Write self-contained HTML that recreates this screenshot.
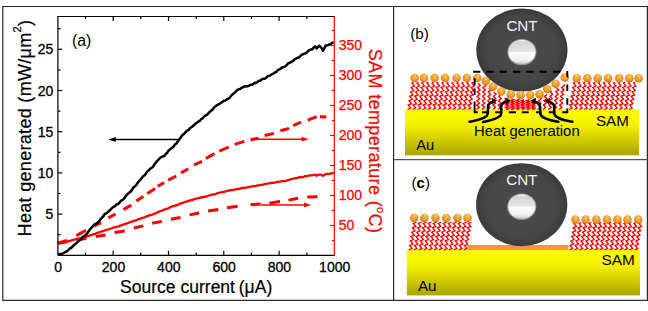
<!DOCTYPE html><html><head><meta charset="utf-8"><style>html,body{margin:0;padding:0;background:#fff;}svg{display:block;}text{font-family:"Liberation Sans",sans-serif;}</style></head><body>
<svg width="648" height="311" viewBox="0 0 648 311">
<defs>
<linearGradient id="gold" x1="0" y1="0" x2="0" y2="1">
<stop offset="0" stop-color="#ffff00"/><stop offset="0.35" stop-color="#f4f000"/><stop offset="1" stop-color="#aaa400"/>
</linearGradient>
<radialGradient id="ball" cx="0.5" cy="0.45" r="0.58" fx="0.55" fy="0.22">
<stop offset="0" stop-color="#ffe07a"/><stop offset="0.3" stop-color="#f9b03e"/><stop offset="0.75" stop-color="#ec912a"/><stop offset="1" stop-color="#b86e1c"/>
</radialGradient>
<radialGradient id="cnt" cx="0.5" cy="0.5" r="0.5">
<stop offset="0" stop-color="#4c4c4c"/><stop offset="0.8" stop-color="#464646"/><stop offset="1" stop-color="#3a3a3a"/>
</radialGradient>
<linearGradient id="hole" x1="0" y1="0" x2="0" y2="1">
<stop offset="0" stop-color="#f4f4f4"/><stop offset="0.1" stop-color="#d4d4d4"/><stop offset="0.48" stop-color="#e4e4e4"/><stop offset="0.5" stop-color="#f0f0f0"/><stop offset="0.53" stop-color="#fbfbfb"/><stop offset="0.85" stop-color="#f2f2f2"/><stop offset="1" stop-color="#c4c4c4"/>
</linearGradient>
</defs>
<rect width="648" height="311" fill="#fff"/>
<g stroke="#2a2a2a" fill="none" stroke-width="1.2">
<path d="M2.8,6.5 H647.4 V300.4 H2.8 Z"/>
<path d="M393.6,6.5 V300.4"/>
<path d="M393.6,159.6 H647.4" stroke="#555" stroke-width="1.1"/>
</g>
<path d="M57.9,243.3 L59.6,242.9 L61.2,242.5 L62.9,242.5 L64.6,241.8 L66.2,241.8 L67.9,241.4 L69.5,240.8 L71.1,240.6 L72.7,239.9 L74.3,239.7 L75.9,239.1 L77.5,238.6 L79.1,238.4 L80.7,238.2 L82.3,237.3 L83.9,236.9 L85.5,236.7 L87.2,236.5 L88.8,235.8 L90.4,235.2 L92.0,235.1 L93.6,234.1 L95.2,234.1 L96.8,233.1 L98.4,232.5 L100.0,231.9 L101.7,231.5 L103.3,231.2 L104.9,230.3 L106.5,229.9 L108.1,229.5 L109.7,228.9 L111.3,228.5 L112.9,227.7 L114.5,227.3 L116.1,226.9 L117.7,226.7 L119.3,226.1 L120.8,225.4 L122.4,225.0 L123.9,224.4 L125.4,223.8 L126.9,223.5 L128.5,222.9 L130.0,222.0 L131.7,221.7 L133.3,221.1 L135.0,220.7 L136.7,220.1 L138.3,219.2 L140.0,219.1 L141.6,218.0 L143.2,217.6 L144.8,217.3 L146.4,216.3 L148.1,216.0 L149.7,215.1 L151.3,215.0 L152.9,214.5 L154.7,213.6 L156.4,213.0 L158.2,211.9 L160.0,211.3 L161.5,210.7 L163.1,210.1 L164.6,209.4 L166.2,209.1 L167.7,208.5 L169.2,207.7 L170.8,207.2 L172.3,206.2 L173.9,206.1 L175.4,205.5 L176.9,205.2 L178.5,204.5 L180.1,203.7 L181.6,203.2 L183.1,202.8 L184.7,201.9 L186.2,201.7 L187.8,201.1 L189.3,200.6 L190.8,200.1 L192.4,200.0 L193.9,199.2 L195.5,198.8 L197.0,198.4 L198.6,198.3 L200.1,197.5 L201.7,197.3 L203.2,197.0 L204.8,196.8 L206.3,196.4 L207.8,196.0 L209.4,195.3 L210.9,195.0 L212.5,194.5 L214.0,194.5 L215.6,194.1 L217.1,193.3 L218.6,192.9 L220.2,192.5 L221.7,192.1 L223.2,192.0 L224.8,191.7 L226.3,191.1 L227.8,190.7 L229.4,190.6 L230.9,190.2 L232.5,190.0 L234.0,189.9 L235.7,189.4 L237.3,189.0 L239.0,188.8 L240.7,188.5 L242.3,187.8 L244.0,188.0 L245.6,187.7 L247.3,187.4 L248.9,187.2 L250.4,186.7 L251.9,186.5 L253.5,186.1 L255.1,186.2 L256.6,185.6 L258.1,185.4 L259.7,185.2 L261.2,184.9 L262.8,184.7 L264.3,184.2 L265.9,183.9 L267.4,183.6 L268.9,183.3 L270.5,183.1 L272.0,182.6 L273.6,182.9 L275.1,182.5 L276.6,182.0 L278.2,181.8 L279.8,181.6 L281.3,181.4 L282.8,181.0 L284.4,181.2 L285.9,180.9 L287.5,180.2 L289.0,179.9 L290.5,179.3 L292.1,178.9 L293.6,178.7 L295.2,178.2 L296.7,178.2 L298.4,177.5 L300.0,177.2 L301.8,177.4 L303.6,176.8 L305.3,176.2 L307.1,176.1 L308.9,175.5 L310.6,175.4 L312.8,175.1 L314.9,174.5 L316.6,175.8 L318.4,174.6 L321.2,174.6 L323.0,175.9 L325.5,174.2 L327.6,173.8 L329.7,173.8 L331.9,173.1 L334.0,172.9" fill="none" stroke="#ff0000" stroke-width="2.3" stroke-linejoin="round"/>
<path d="M57.9,243.3 L67.0,241.8 M76.2,240.2 L86.5,238.3 M95.8,236.5 L105.5,235.0 M114.5,232.6 L124.8,230.9 M133.8,228.0 L143.4,225.9 M152.2,223.3 L161.9,221.4 M170.9,219.3 L180.5,217.5 M189.5,214.9 L199.2,213.0 M208.1,211.1 L218.3,209.6 M227.0,207.8 L237.6,206.3 M250.5,204.7 L260.7,204.0 M269.4,203.2 L279.5,201.4 L280.0,201.3 M288.5,200.1 L298.2,198.3 M307.3,197.0 L317.5,196.7" fill="none" stroke="#ff0000" stroke-width="3" stroke-linejoin="round"/>
<path d="M57.9,243.3 L67.0,240.4 M76.3,235.6 L85.9,230.4 M93.9,226.2 L101.1,222.6 M108.3,218.0 L115.0,214.3 L115.5,214.0 M123.4,209.6 L131.3,205.1 M136.4,200.9 L143.1,196.4 L143.2,196.3 M147.2,193.6 L148.2,192.9 L154.4,189.0 L155.0,188.5 M157.7,186.2 L164.1,182.6 M168.2,180.1 L176.2,176.0 M181.0,172.9 L188.3,168.8 M193.9,165.0 L202.0,161.3 M205.8,158.5 L214.5,153.6 M219.3,151.2 L228.9,147.0 M234.7,144.4 L244.3,141.4 M250.5,139.8 L258.5,138.2 M264.7,135.5 L274.0,133.4 M280.4,130.8 L289.0,128.4 M293.2,125.6 L301.0,122.0 M307.8,120.1 L316.7,116.6 M319.9,116.8 L326.3,116.9" fill="none" stroke="#ff0000" stroke-width="3" stroke-linejoin="round"/>
<path d="M57.9,255.0 L59.3,254.1 L60.6,254.2 L62.0,253.8 L63.5,253.0 L65.1,252.2 L66.6,251.5 L68.1,250.3 L69.5,248.7 L71.0,248.0 L72.6,246.5 L74.2,244.9 L75.8,243.6 L77.2,242.4 L78.7,240.9 L80.1,240.0 L81.6,238.8 L83.0,236.8 L84.5,235.9 L86.0,234.6 L87.4,233.1 L88.9,230.8 L90.3,229.0 L91.8,227.3 L93.2,225.7 L94.6,224.4 L96.1,223.6 L97.5,222.7 L98.9,221.4 L100.4,219.4 L101.8,217.9 L103.2,216.5 L104.7,214.0 L106.2,213.4 L107.6,212.4 L109.0,211.0 L110.5,209.7 L112.0,208.2 L113.5,206.8 L115.0,206.3 L116.3,204.7 L117.7,204.1 L119.0,203.2 L120.4,201.4 L121.7,200.3 L123.1,199.5 L124.6,197.8 L126.0,195.7 L127.5,194.2 L128.9,192.8 L130.4,191.9 L131.8,190.1 L133.3,187.6 L134.7,186.6 L136.2,185.0 L137.6,183.1 L139.1,181.1 L140.5,179.8 L142.0,177.7 L143.4,176.0 L144.8,175.2 L146.3,172.9 L147.7,170.9 L149.0,170.3 L150.3,168.6 L151.6,167.9 L152.9,166.8 L154.8,163.8 L156.7,161.6 L158.0,160.2 L159.3,158.6 L160.6,157.5 L162.5,156.5 L164.4,156.0 L165.7,154.0 L167.0,153.1 L168.3,150.7 L170.0,149.4 L171.7,148.0 L173.4,146.8 L174.9,144.6 L176.4,143.5 L177.9,141.3 L179.4,139.3 L180.9,137.2 L182.4,135.1 L184.0,134.0 L185.6,132.2 L187.1,130.5 L188.5,130.1 L189.9,128.2 L191.4,127.3 L192.8,126.3 L194.2,124.9 L195.6,123.5 L197.0,122.7 L198.4,121.7 L199.8,120.9 L201.2,119.1 L202.6,118.3 L204.0,116.7 L205.5,115.5 L206.9,114.8 L208.3,113.3 L209.7,111.9 L211.1,110.7 L212.6,109.5 L214.0,107.6 L215.4,106.3 L216.8,105.3 L218.2,104.5 L219.7,103.8 L221.1,102.6 L222.5,101.8 L223.9,100.9 L225.3,100.5 L226.8,99.4 L228.2,98.7 L229.6,97.9 L231.2,95.6 L232.7,94.3 L234.2,93.2 L235.8,91.5 L237.2,90.0 L238.7,89.3 L240.2,88.9 L241.6,87.8 L243.1,87.2 L244.5,86.3 L245.9,86.5 L247.4,86.2 L248.8,85.9 L250.3,84.7 L251.7,84.8 L253.1,84.1 L254.6,82.8 L256.0,82.9 L257.5,82.2 L258.9,80.7 L260.3,80.8 L261.8,79.4 L263.2,78.8 L264.7,78.7 L266.1,77.8 L267.6,76.3 L269.0,75.9 L270.5,75.3 L271.9,74.3 L273.4,73.5 L274.8,72.5 L276.3,71.9 L277.8,70.0 L279.2,69.6 L280.6,68.7 L282.0,67.5 L283.5,67.1 L284.9,66.7 L286.6,65.1 L288.3,63.2 L290.0,62.7 L291.5,61.7 L293.0,61.1 L294.4,59.4 L295.9,58.7 L297.4,57.7 L299.0,57.4 L300.6,55.8 L302.2,54.6 L303.8,53.9 L305.4,53.4 L307.0,52.3 L308.6,50.6 L310.4,49.6 L312.2,49.5 L313.6,47.6 L315.1,46.3 L316.7,48.5 L319.1,45.6 L321.5,47.9 L323.1,50.8 L325.6,45.6 L328.0,45.3 L329.4,44.4 L330.8,44.0 L332.2,42.7 L333.6,42.6" fill="none" stroke="#000" stroke-width="2.5" stroke-linejoin="round"/>
<path d="M115,139.4 H179.9" stroke="#000" stroke-width="1.5"/><path d="M108.3,139.4 L115.8,136.9 L115.8,141.9 Z" fill="#000"/>
<path d="M257,139.2 H302" stroke="#ff0000" stroke-width="1.5"/><path d="M308.8,139.2 L301.5,136.8 L301.5,141.6 Z" fill="#ff0000"/>
<path d="M260.8,204.9 H305" stroke="#ff0000" stroke-width="1.5"/><path d="M311.2,204.9 L304,202.5 L304,207.3 Z" fill="#ff0000"/>
<g stroke="#000" stroke-width="1.2" fill="none">
<path d="M57.9,255.3 V16.5 H334.3"/>
<path d="M57.9,255.3 H334.3"/>
<path d="M85.5,255.3 V252.7 M85.5,16.5 V19.1"/>
<path d="M113.2,255.3 V250.8 M113.2,16.5 V21.0"/>
<path d="M140.8,255.3 V252.7 M140.8,16.5 V19.1"/>
<path d="M168.5,255.3 V250.8 M168.5,16.5 V21.0"/>
<path d="M196.2,255.3 V252.7 M196.2,16.5 V19.1"/>
<path d="M223.8,255.3 V250.8 M223.8,16.5 V21.0"/>
<path d="M251.5,255.3 V252.7 M251.5,16.5 V19.1"/>
<path d="M279.1,255.3 V250.8 M279.1,16.5 V21.0"/>
<path d="M306.8,255.3 V252.7 M306.8,16.5 V19.1"/>
<path d="M57.9,234.7 H60.5"/>
<path d="M57.9,214.1 H62.2"/>
<path d="M57.9,193.5 H60.5"/>
<path d="M57.9,172.9 H62.2"/>
<path d="M57.9,152.3 H60.5"/>
<path d="M57.9,131.7 H62.2"/>
<path d="M57.9,111.1 H60.5"/>
<path d="M57.9,90.5 H62.2"/>
<path d="M57.9,69.9 H60.5"/>
<path d="M57.9,49.3 H62.2"/>
<path d="M57.9,28.7 H60.5"/>
</g>
<g stroke="#ff0000" stroke-width="1.2" fill="none">
<path d="M334.3,16.3 V255.9"/>
<path d="M334.3,240.5 H331.7"/>
<path d="M334.3,225.5 H330.0"/>
<path d="M334.3,210.5 H331.7"/>
<path d="M334.3,195.5 H330.0"/>
<path d="M334.3,180.5 H331.7"/>
<path d="M334.3,165.5 H330.0"/>
<path d="M334.3,150.5 H331.7"/>
<path d="M334.3,135.5 H330.0"/>
<path d="M334.3,120.5 H331.7"/>
<path d="M334.3,105.5 H330.0"/>
<path d="M334.3,90.5 H331.7"/>
<path d="M334.3,75.5 H330.0"/>
<path d="M334.3,60.5 H331.7"/>
<path d="M334.3,45.5 H330.0"/>
<path d="M334.3,30.5 H331.7"/>
</g>
<g font-size="14" fill="#000" stroke="#000" stroke-width="0.3" text-anchor="middle">
<text x="58.2" y="272.1">0</text>
<text x="113.5" y="272.1">200</text>
<text x="168.8" y="272.1">400</text>
<text x="224.1" y="272.1">600</text>
<text x="279.4" y="272.1">800</text>
<text x="334.7" y="272.1">1000</text>
</g>
<g font-size="14" fill="#000" stroke="#000" stroke-width="0.3" text-anchor="end">
<text x="53.4" y="219.1">5</text>
<text x="53.4" y="177.9">10</text>
<text x="53.4" y="136.7">15</text>
<text x="53.4" y="95.5">20</text>
<text x="53.4" y="54.3">25</text>
</g>
<g font-size="14" fill="#ff0000" stroke="#ff0000" stroke-width="0.25" text-anchor="start">
<text x="338.8" y="230.4">50</text>
<text x="338.8" y="200.4">100</text>
<text x="338.8" y="170.4">150</text>
<text x="338.8" y="140.4">200</text>
<text x="338.8" y="110.4">250</text>
<text x="338.8" y="80.4">300</text>
<text x="338.8" y="50.4">350</text>
</g>
<g font-size="17.5" fill="#000" stroke="#000" stroke-width="0.2"><text x="120.1" y="292.5">Source</text><text x="180.5" y="292.5">current</text><text x="238.8" y="292.5">(μA)</text></g>
<text transform="translate(30.8,128.2) rotate(-90)" font-size="18" text-anchor="middle" textLength="216.4" lengthAdjust="spacing" fill="#000" stroke="#000" stroke-width="0.2">Heat generated (mW/μm<tspan font-size="11" dy="-9.5">2</tspan><tspan dy="9.5">)</tspan></text>
<text transform="translate(369.3,140.8) rotate(90)" font-size="18" text-anchor="middle" textLength="184.3" lengthAdjust="spacing" fill="#ff0000" stroke="#ff0000" stroke-width="0.2">SAM temperature (<tspan font-size="11" dy="-7.5">o</tspan><tspan dy="7.5">C)</tspan></text>
<text x="72.0" y="46.2" font-size="15.8" fill="#000">(a)</text>
<rect x="405" y="109.5" width="234" height="45.8" fill="url(#gold)"/>
<g fill="none" stroke="#ff0000" stroke-width="1.35" stroke-linejoin="miter" stroke-miterlimit="3"><polyline points="407.5,109.5 410.7,108.1 408.2,105.1 411.5,103.7 409.0,100.7 412.2,99.3 409.7,96.3 413.0,94.9 410.5,91.9 413.7,90.5 411.2,87.5 414.5,86.1 412.0,83.1 413.5,82.4"/><polyline points="412.5,109.5 415.7,108.1 413.2,105.1 416.5,103.7 414.0,100.7 417.2,99.3 414.7,96.3 418.0,94.9 415.5,91.9 418.7,90.5 416.2,87.5 419.5,86.1 417.0,83.1 418.5,82.4"/><polyline points="417.5,109.5 420.7,108.1 418.2,105.1 421.5,103.7 419.0,100.7 422.2,99.3 419.7,96.3 423.0,94.9 420.5,91.9 423.7,90.5 421.2,87.5 424.5,86.1 422.0,83.1 423.5,82.4"/><polyline points="422.5,109.5 425.7,108.1 423.2,105.1 426.5,103.7 424.0,100.7 427.2,99.3 424.7,96.3 428.0,94.9 425.5,91.9 428.7,90.5 426.2,87.5 429.5,86.1 427.0,83.1 428.5,82.4"/><polyline points="427.5,109.5 430.7,108.1 428.2,105.1 431.5,103.7 429.0,100.7 432.2,99.3 429.7,96.3 433.0,94.9 430.5,91.9 433.7,90.5 431.2,87.5 434.5,86.1 432.0,83.1 433.5,82.4"/><polyline points="432.5,109.5 435.7,108.1 433.2,105.1 436.5,103.7 434.0,100.7 437.2,99.3 434.7,96.3 438.0,94.9 435.5,91.9 438.7,90.5 436.2,87.5 439.5,86.1 437.0,83.1 438.5,82.4"/><polyline points="437.5,109.5 440.7,108.1 438.2,105.1 441.5,103.7 439.0,100.7 442.2,99.3 439.7,96.3 443.0,94.9 440.5,91.9 443.7,90.5 441.2,87.5 444.5,86.1 442.0,83.1 443.5,82.4"/><polyline points="442.5,109.5 445.7,108.1 443.2,105.1 446.5,103.7 444.0,100.7 447.2,99.3 444.7,96.3 448.0,94.9 445.5,91.9 448.7,90.5 446.2,87.5 449.5,86.1 447.0,83.1 448.5,82.4"/><polyline points="447.5,109.5 450.7,108.1 448.2,105.1 451.5,103.7 449.0,100.7 452.2,99.3 449.7,96.3 453.0,94.9 450.5,91.9 453.7,90.5 451.2,87.5 454.5,86.1 452.0,83.1 453.5,82.4"/><polyline points="452.5,109.5 455.7,108.1 453.2,105.1 456.5,103.7 454.0,100.7 457.2,99.3 454.7,96.3 458.0,94.9 455.5,91.9 458.7,90.5 456.2,87.5 459.5,86.1 457.0,83.1 458.5,82.4"/><polyline points="457.5,109.5 460.7,108.1 458.2,105.1 461.5,103.7 459.0,100.7 462.2,99.3 459.7,96.3 463.0,94.9 460.5,91.9 463.7,90.5 461.2,87.5 464.5,86.1 462.0,83.1 463.5,82.4"/><polyline points="462.5,109.5 465.7,108.1 463.2,105.1 466.5,103.7 464.0,100.7 467.2,99.3 464.7,96.3 468.0,94.9 465.5,91.9 468.7,90.5 466.2,87.5 469.5,86.1 467.0,83.1 468.5,82.4"/><polyline points="467.5,109.5 470.7,108.1 468.2,105.1 471.5,103.7 469.0,100.7 472.2,99.3 469.7,96.3 473.0,94.9 470.5,91.9 473.7,90.5 471.2,87.5 474.5,86.1 472.0,83.1 473.5,82.4"/></g>
<g fill="none" stroke="#ff0000" stroke-width="1.35" stroke-linejoin="miter" stroke-miterlimit="3"><polyline points="569.0,109.5 572.2,108.1 569.7,105.1 573.0,103.7 570.5,100.7 573.7,99.3 571.2,96.3 574.5,94.9 572.0,91.9 575.2,90.5 572.7,87.5 576.0,86.1 573.5,83.1 575.0,82.4"/><polyline points="574.0,109.5 577.2,108.1 574.7,105.1 578.0,103.7 575.5,100.7 578.7,99.3 576.2,96.3 579.5,94.9 577.0,91.9 580.2,90.5 577.7,87.5 581.0,86.1 578.5,83.1 580.0,82.4"/><polyline points="579.0,109.5 582.2,108.1 579.7,105.1 583.0,103.7 580.5,100.7 583.7,99.3 581.2,96.3 584.5,94.9 582.0,91.9 585.2,90.5 582.7,87.5 586.0,86.1 583.5,83.1 585.0,82.4"/><polyline points="584.0,109.5 587.2,108.1 584.7,105.1 588.0,103.7 585.5,100.7 588.7,99.3 586.2,96.3 589.5,94.9 587.0,91.9 590.2,90.5 587.7,87.5 591.0,86.1 588.5,83.1 590.0,82.4"/><polyline points="589.0,109.5 592.2,108.1 589.7,105.1 593.0,103.7 590.5,100.7 593.7,99.3 591.2,96.3 594.5,94.9 592.0,91.9 595.2,90.5 592.7,87.5 596.0,86.1 593.5,83.1 595.0,82.4"/><polyline points="594.0,109.5 597.2,108.1 594.7,105.1 598.0,103.7 595.5,100.7 598.7,99.3 596.2,96.3 599.5,94.9 597.0,91.9 600.2,90.5 597.7,87.5 601.0,86.1 598.5,83.1 600.0,82.4"/><polyline points="599.0,109.5 602.2,108.1 599.7,105.1 603.0,103.7 600.5,100.7 603.7,99.3 601.2,96.3 604.5,94.9 602.0,91.9 605.2,90.5 602.7,87.5 606.0,86.1 603.5,83.1 605.0,82.4"/><polyline points="604.0,109.5 607.2,108.1 604.7,105.1 608.0,103.7 605.5,100.7 608.7,99.3 606.2,96.3 609.5,94.9 607.0,91.9 610.2,90.5 607.7,87.5 611.0,86.1 608.5,83.1 610.0,82.4"/><polyline points="609.0,109.5 612.2,108.1 609.7,105.1 613.0,103.7 610.5,100.7 613.7,99.3 611.2,96.3 614.5,94.9 612.0,91.9 615.2,90.5 612.7,87.5 616.0,86.1 613.5,83.1 615.0,82.4"/><polyline points="614.0,109.5 617.2,108.1 614.7,105.1 618.0,103.7 615.5,100.7 618.7,99.3 616.2,96.3 619.5,94.9 617.0,91.9 620.2,90.5 617.7,87.5 621.0,86.1 618.5,83.1 620.0,82.4"/><polyline points="619.0,109.5 622.2,108.1 619.7,105.1 623.0,103.7 620.5,100.7 623.7,99.3 621.2,96.3 624.5,94.9 622.0,91.9 625.2,90.5 622.7,87.5 626.0,86.1 623.5,83.1 625.0,82.4"/><polyline points="624.0,109.5 627.2,108.1 624.7,105.1 628.0,103.7 625.5,100.7 628.7,99.3 626.2,96.3 629.5,94.9 627.0,91.9 630.2,90.5 627.7,87.5 631.0,86.1 628.5,83.1 630.0,82.4"/><polyline points="629.0,109.5 632.2,108.1 629.7,105.1 633.0,103.7 630.5,100.7 633.7,99.3 631.2,96.3 634.5,94.9 632.0,91.9 635.2,90.5 632.7,87.5 636.0,86.1 633.5,83.1 635.0,82.4"/></g>
<g fill="none" stroke="#ff0000" stroke-width="1.4"><polyline points="476.5,109.5 479.2,107.5 476.7,105.1 479.4,103.1 476.9,100.7 479.6,98.7 477.2,96.3 479.9,94.3 477.4,91.9 480.1,89.9 477.6,87.5 480.3,85.5 478.0,83.2"/><polyline points="481.9,109.5 484.6,107.5 482.1,105.1 484.8,103.1 482.3,100.7 485.0,98.7 482.6,96.3 485.3,94.3 482.8,91.9 485.5,89.9 483.0,87.5 485.7,85.5 485.0,84.8"/><polyline points="487.3,109.5 490.0,107.5 487.5,105.1 490.2,103.1 487.7,100.7 490.4,98.7 488.0,96.3 490.7,94.3 488.2,91.9 490.9,89.9 488.8,87.9"/><polyline points="492.7,109.5 495.4,107.5 492.9,105.1 495.6,103.1 493.1,100.7 495.8,98.7 493.4,96.3 496.1,94.3 493.6,91.9"/><polyline points="498.1,109.5 500.8,107.5 498.3,105.1 501.0,103.1 498.5,100.7 501.2,98.7 498.8,96.3 500.5,95.0"/></g>
<g fill="none" stroke="#ff0000" stroke-width="1.4"><polyline points="537.5,109.5 540.3,107.5 538.0,105.1 540.9,103.1 538.6,100.7 541.4,98.7 540.6,97.9"/><polyline points="542.9,109.5 545.7,107.5 543.4,105.1 546.3,103.1 544.0,100.7 546.8,98.7 544.5,96.3 547.2,94.4"/><polyline points="548.3,109.5 551.1,107.5 548.8,105.1 551.7,103.1 549.4,100.7 552.2,98.7 549.9,96.3 552.7,94.3 550.4,91.9 551.7,91.0"/><polyline points="553.7,109.5 556.5,107.5 554.2,105.1 557.1,103.1 554.8,100.7 557.6,98.7 555.3,96.3 558.1,94.3 555.8,91.9 558.7,89.9 556.5,87.7"/><polyline points="559.1,109.5 561.9,107.5 559.6,105.1 562.5,103.1 560.2,100.7 563.0,98.7 560.7,96.3 563.5,94.3 561.2,91.9 564.1,89.9 561.7,87.5 564.6,85.5 563.6,84.6"/></g>
<g fill="none" stroke="#ff0000" stroke-width="1.45"><polyline points="506.0,109.6 508.5,108.7 506.0,107.8 508.5,106.9 506.0,106.0 508.5,105.1 506.0,104.2 508.5,103.3 506.0,102.4 508.5,101.5 506.0,100.6 508.5,99.7 506.0,98.8 508.5,97.9"/><polyline points="511.2,109.6 513.7,108.7 511.2,107.8 513.7,106.9 511.2,106.0 513.7,105.1 511.2,104.2 513.7,103.3 511.2,102.4 513.7,101.5 511.2,100.6 513.7,99.7 511.4,98.9"/><polyline points="516.4,109.6 518.9,108.7 516.4,107.8 518.9,106.9 516.4,106.0 518.9,105.1 516.4,104.2 518.9,103.3 516.4,102.4 518.9,101.5 516.4,100.6 518.9,99.7 517.9,99.3"/><polyline points="521.6,109.6 524.1,108.7 521.6,107.8 524.1,106.9 521.6,106.0 524.1,105.1 521.6,104.2 524.1,103.3 521.6,102.4 524.1,101.5 521.6,100.6 524.1,99.7"/><polyline points="526.8,109.6 529.3,108.7 526.8,107.8 529.3,106.9 526.8,106.0 529.3,105.1 526.8,104.2 529.3,103.3 526.8,102.4 529.3,101.5 526.8,100.6 529.3,99.7"/><polyline points="532.0,109.6 534.5,108.7 532.0,107.8 534.5,106.9 532.0,106.0 534.5,105.1 532.0,104.2 534.5,103.3 532.0,102.4 534.5,101.5 532.0,100.6 534.5,99.7 533.3,99.3"/></g>
<ellipse cx="521.9" cy="50.1" rx="45.6" ry="41.5" fill="url(#cnt)"/><text x="522.0" y="31.1" font-size="15.2" fill="#f2f2f2" text-anchor="middle">CNT</text><ellipse cx="521.9" cy="52.1" rx="14.6" ry="13.2" fill="#9a9a9a"/><ellipse cx="521.9" cy="51.9" rx="13.6" ry="12.2" fill="url(#hole)"/>
<circle cx="414.6" cy="78.1" r="4.25" fill="url(#ball)"/>
<circle cx="424.0" cy="78.1" r="4.25" fill="url(#ball)"/>
<circle cx="434.6" cy="78.1" r="4.25" fill="url(#ball)"/>
<circle cx="445.1" cy="78.1" r="4.25" fill="url(#ball)"/>
<circle cx="456.6" cy="78.1" r="4.25" fill="url(#ball)"/>
<circle cx="466.9" cy="78.1" r="4.25" fill="url(#ball)"/>
<circle cx="477.2" cy="78.1" r="4.25" fill="url(#ball)"/>
<circle cx="485.7" cy="80.9" r="4.25" fill="url(#ball)"/>
<circle cx="492.9" cy="86.7" r="4.25" fill="url(#ball)"/>
<circle cx="501.3" cy="91.6" r="4.25" fill="url(#ball)"/>
<circle cx="510.9" cy="94.2" r="4.25" fill="url(#ball)"/>
<circle cx="520.6" cy="95.1" r="4.25" fill="url(#ball)"/>
<circle cx="530.2" cy="95.1" r="4.25" fill="url(#ball)"/>
<circle cx="539.6" cy="94.2" r="4.25" fill="url(#ball)"/>
<circle cx="547.2" cy="89.1" r="4.25" fill="url(#ball)"/>
<circle cx="555.6" cy="83.8" r="4.25" fill="url(#ball)"/>
<circle cx="564.8" cy="77.6" r="4.25" fill="url(#ball)"/>
<circle cx="576.8" cy="78.2" r="4.25" fill="url(#ball)"/>
<circle cx="587.4" cy="78.2" r="4.25" fill="url(#ball)"/>
<circle cx="597.7" cy="78.2" r="4.25" fill="url(#ball)"/>
<circle cx="608.1" cy="78.2" r="4.25" fill="url(#ball)"/>
<circle cx="619.2" cy="78.2" r="4.25" fill="url(#ball)"/>
<circle cx="629.3" cy="78.2" r="4.25" fill="url(#ball)"/>
<circle cx="638.6" cy="78.2" r="4.25" fill="url(#ball)"/>
<path d="M473.1,71.7 H480.4 M486.4,71.7 H493.7 M499.7,71.7 H507 M513,71.7 H520.3 M526.3,71.7 H533.6 M539.6,71.7 H546.9 M552.9,71.7 H560.2 M567.3,71.0 V77.3 M567.3,84.6 V91.1 M567.3,98.2 V104.8 M567.3,108.6 V112.3 M474.6,112.3 H477.8 M482,112.3 H487.4 M495.1,112.3 H500.5 M508.7,112.3 H516 M521.8,112.3 H528.8 M535.9,112.3 H541.5 M548.8,112.3 H554.7 M562.2,112.3 H568.2 M474.6,78.2 V85.2 M474.6,88.6 V95 M474.6,101.5 V113.2" fill="none" stroke="#000" stroke-width="1.9"/>
<path d="M469.5,121.8 C476,120.5 482,119.5 486,116.5 C490,113 486.5,107.5 488.6,104.5 C490,102.5 492,101.8 494,101.2" fill="none" stroke="#000" stroke-width="2.6" stroke-linecap="round"/>
<path d="M483,122 C490,120.5 497,119.5 500.5,115.5 C503,112 499.5,107 502,104 C503.5,102.5 505.5,101.8 507.5,101.3" fill="none" stroke="#000" stroke-width="2.6" stroke-linecap="round"/>
<path d="M558.3,121.8 C551,120.5 545,119.5 541.5,116 C538.5,112.5 541.5,107 539.5,104.5 C538,102.5 536,101.8 533.5,101.2" fill="none" stroke="#000" stroke-width="2.6" stroke-linecap="round"/>
<path d="M572.4,121.8 C565,120.5 559,119.5 555.5,116 C552.5,112.5 555.5,107 553.5,104.5 C552,102.5 550,101.8 547.5,101.2" fill="none" stroke="#000" stroke-width="2.6" stroke-linecap="round"/>
<path d="M497,100.6 L491.5,97.8 L492.5,104.2 Z" fill="#000"/>
<path d="M510.5,100.8 L505,98 L506,104.4 Z" fill="#000"/>
<path d="M530.5,100.6 L536,97.8 L535,104.2 Z" fill="#000"/>
<path d="M544.5,100.6 L550,97.8 L549,104.2 Z" fill="#000"/>
<text x="474.0" y="136.3" font-size="14.85" fill="#000">Heat generation</text>
<text x="628.8" y="125.9" font-size="15.2" fill="#000" text-anchor="end">SAM</text>
<text x="416.3" y="150.1" font-size="14.7" fill="#000">Au</text>
<text x="410.2" y="38.9" font-size="15.3" fill="#000">(b)</text>
<rect x="406.8" y="249.8" width="233.2" height="45.6" fill="url(#gold)"/>
<g fill="none" stroke="#ff0000" stroke-width="1.35" stroke-linejoin="miter" stroke-miterlimit="3"><polyline points="408.8,249.8 412.0,248.4 409.5,245.4 412.8,244.0 410.3,241.0 413.5,239.6 411.0,236.6 414.3,235.2 411.8,232.2 415.0,230.8 412.5,227.8 415.8,226.4 413.3,223.4 416.5,222.0"/><polyline points="413.8,249.8 417.0,248.4 414.5,245.4 417.8,244.0 415.3,241.0 418.5,239.6 416.0,236.6 419.3,235.2 416.8,232.2 420.0,230.8 417.5,227.8 420.8,226.4 418.3,223.4 421.5,222.0"/><polyline points="418.8,249.8 422.0,248.4 419.5,245.4 422.8,244.0 420.3,241.0 423.5,239.6 421.0,236.6 424.3,235.2 421.8,232.2 425.0,230.8 422.5,227.8 425.8,226.4 423.3,223.4 426.5,222.0"/><polyline points="423.8,249.8 427.0,248.4 424.5,245.4 427.8,244.0 425.3,241.0 428.5,239.6 426.0,236.6 429.3,235.2 426.8,232.2 430.0,230.8 427.5,227.8 430.8,226.4 428.3,223.4 431.5,222.0"/><polyline points="428.8,249.8 432.0,248.4 429.5,245.4 432.8,244.0 430.3,241.0 433.5,239.6 431.0,236.6 434.3,235.2 431.8,232.2 435.0,230.8 432.5,227.8 435.8,226.4 433.3,223.4 436.5,222.0"/><polyline points="433.8,249.8 437.0,248.4 434.5,245.4 437.8,244.0 435.3,241.0 438.5,239.6 436.0,236.6 439.3,235.2 436.8,232.2 440.0,230.8 437.5,227.8 440.8,226.4 438.3,223.4 441.5,222.0"/><polyline points="438.8,249.8 442.0,248.4 439.5,245.4 442.8,244.0 440.3,241.0 443.5,239.6 441.0,236.6 444.3,235.2 441.8,232.2 445.0,230.8 442.5,227.8 445.8,226.4 443.3,223.4 446.5,222.0"/><polyline points="443.8,249.8 447.0,248.4 444.5,245.4 447.8,244.0 445.3,241.0 448.5,239.6 446.0,236.6 449.3,235.2 446.8,232.2 450.0,230.8 447.5,227.8 450.8,226.4 448.3,223.4 451.5,222.0"/><polyline points="448.8,249.8 452.0,248.4 449.5,245.4 452.8,244.0 450.3,241.0 453.5,239.6 451.0,236.6 454.3,235.2 451.8,232.2 455.0,230.8 452.5,227.8 455.8,226.4 453.3,223.4 456.5,222.0"/><polyline points="453.8,249.8 457.0,248.4 454.5,245.4 457.8,244.0 455.3,241.0 458.5,239.6 456.0,236.6 459.3,235.2 456.8,232.2 460.0,230.8 457.5,227.8 460.8,226.4 458.3,223.4 461.5,222.0"/><polyline points="458.8,249.8 462.0,248.4 459.5,245.4 462.8,244.0 460.3,241.0 463.5,239.6 461.0,236.6 464.3,235.2 461.8,232.2 465.0,230.8 462.5,227.8 465.8,226.4 463.3,223.4 466.5,222.0"/><polyline points="463.8,249.8 467.0,248.4 464.5,245.4 467.8,244.0 465.3,241.0 468.5,239.6 466.0,236.6 469.3,235.2 466.8,232.2 470.0,230.8 467.5,227.8 470.8,226.4 468.3,223.4 471.5,222.0"/></g>
<g fill="none" stroke="#ff0000" stroke-width="1.35" stroke-linejoin="miter" stroke-miterlimit="3"><polyline points="569.5,249.8 572.7,248.4 570.2,245.4 573.5,244.0 571.0,241.0 574.2,239.6 571.7,236.6 575.0,235.2 572.5,232.2 575.7,230.8 573.2,227.8 576.5,226.4 574.0,223.4 576.3,222.4"/><polyline points="574.5,249.8 577.7,248.4 575.2,245.4 578.5,244.0 576.0,241.0 579.2,239.6 576.7,236.6 580.0,235.2 577.5,232.2 580.7,230.8 578.2,227.8 581.5,226.4 579.0,223.4 581.3,222.4"/><polyline points="579.5,249.8 582.7,248.4 580.2,245.4 583.5,244.0 581.0,241.0 584.2,239.6 581.7,236.6 585.0,235.2 582.5,232.2 585.7,230.8 583.2,227.8 586.5,226.4 584.0,223.4 586.3,222.4"/><polyline points="584.5,249.8 587.7,248.4 585.2,245.4 588.5,244.0 586.0,241.0 589.2,239.6 586.7,236.6 590.0,235.2 587.5,232.2 590.7,230.8 588.2,227.8 591.5,226.4 589.0,223.4 591.3,222.4"/><polyline points="589.5,249.8 592.7,248.4 590.2,245.4 593.5,244.0 591.0,241.0 594.2,239.6 591.7,236.6 595.0,235.2 592.5,232.2 595.7,230.8 593.2,227.8 596.5,226.4 594.0,223.4 596.3,222.4"/><polyline points="594.5,249.8 597.7,248.4 595.2,245.4 598.5,244.0 596.0,241.0 599.2,239.6 596.7,236.6 600.0,235.2 597.5,232.2 600.7,230.8 598.2,227.8 601.5,226.4 599.0,223.4 601.3,222.4"/><polyline points="599.5,249.8 602.7,248.4 600.2,245.4 603.5,244.0 601.0,241.0 604.2,239.6 601.7,236.6 605.0,235.2 602.5,232.2 605.7,230.8 603.2,227.8 606.5,226.4 604.0,223.4 606.3,222.4"/><polyline points="604.5,249.8 607.7,248.4 605.2,245.4 608.5,244.0 606.0,241.0 609.2,239.6 606.7,236.6 610.0,235.2 607.5,232.2 610.7,230.8 608.2,227.8 611.5,226.4 609.0,223.4 611.3,222.4"/><polyline points="609.5,249.8 612.7,248.4 610.2,245.4 613.5,244.0 611.0,241.0 614.2,239.6 611.7,236.6 615.0,235.2 612.5,232.2 615.7,230.8 613.2,227.8 616.5,226.4 614.0,223.4 616.3,222.4"/><polyline points="614.5,249.8 617.7,248.4 615.2,245.4 618.5,244.0 616.0,241.0 619.2,239.6 616.7,236.6 620.0,235.2 617.5,232.2 620.7,230.8 618.2,227.8 621.5,226.4 619.0,223.4 621.3,222.4"/><polyline points="619.5,249.8 622.7,248.4 620.2,245.4 623.5,244.0 621.0,241.0 624.2,239.6 621.7,236.6 625.0,235.2 622.5,232.2 625.7,230.8 623.2,227.8 626.5,226.4 624.0,223.4 626.3,222.4"/><polyline points="624.5,249.8 627.7,248.4 625.2,245.4 628.5,244.0 626.0,241.0 629.2,239.6 626.7,236.6 630.0,235.2 627.5,232.2 630.7,230.8 628.2,227.8 631.5,226.4 629.0,223.4 631.3,222.4"/><polyline points="629.5,249.8 632.7,248.4 630.2,245.4 633.5,244.0 631.0,241.0 634.2,239.6 631.7,236.6 635.0,235.2 632.5,232.2 635.7,230.8 633.2,227.8 636.5,226.4 634.0,223.4 636.3,222.4"/><polyline points="634.5,249.8 637.7,248.4 635.2,245.4 638.5,244.0 636.0,241.0 639.2,239.6 636.7,236.6 640.0,235.2 637.5,232.2 640.7,230.8 638.2,227.8 641.5,226.4 639.0,223.4 641.3,222.4"/></g>
<rect x="467.4" y="245" width="101.2" height="5" fill="#f39548"/>
<ellipse cx="521.7" cy="204.7" rx="45.6" ry="41.5" fill="url(#cnt)"/><text x="521.8000000000001" y="185.3" font-size="15.2" fill="#f2f2f2" text-anchor="middle">CNT</text><ellipse cx="521.7" cy="206.7" rx="14.6" ry="13.2" fill="#9a9a9a"/><ellipse cx="521.7" cy="206.5" rx="13.6" ry="12.2" fill="url(#hole)"/>
<circle cx="414.2" cy="217.9" r="4.25" fill="url(#ball)"/>
<circle cx="424.3" cy="217.9" r="4.25" fill="url(#ball)"/>
<circle cx="435.5" cy="217.9" r="4.25" fill="url(#ball)"/>
<circle cx="446.3" cy="217.9" r="4.25" fill="url(#ball)"/>
<circle cx="457.4" cy="217.9" r="4.25" fill="url(#ball)"/>
<circle cx="467.5" cy="217.9" r="4.25" fill="url(#ball)"/>
<circle cx="575.4" cy="219.5" r="4.25" fill="url(#ball)"/>
<circle cx="585.6" cy="219.5" r="4.25" fill="url(#ball)"/>
<circle cx="596.3" cy="219.5" r="4.25" fill="url(#ball)"/>
<circle cx="607.0" cy="219.5" r="4.25" fill="url(#ball)"/>
<circle cx="617.4" cy="219.5" r="4.25" fill="url(#ball)"/>
<circle cx="627.5" cy="219.5" r="4.25" fill="url(#ball)"/>
<circle cx="638.2" cy="219.5" r="4.25" fill="url(#ball)"/>
<text x="634.9" y="265" font-size="15.4" fill="#000" text-anchor="end">SAM</text>
<text x="417.9" y="291.1" font-size="15.2" fill="#000">Au</text>
<text x="411.6" y="187.8" font-size="15" fill="#000">(<tspan font-weight="bold">c</tspan>)</text>
</svg></body></html>
